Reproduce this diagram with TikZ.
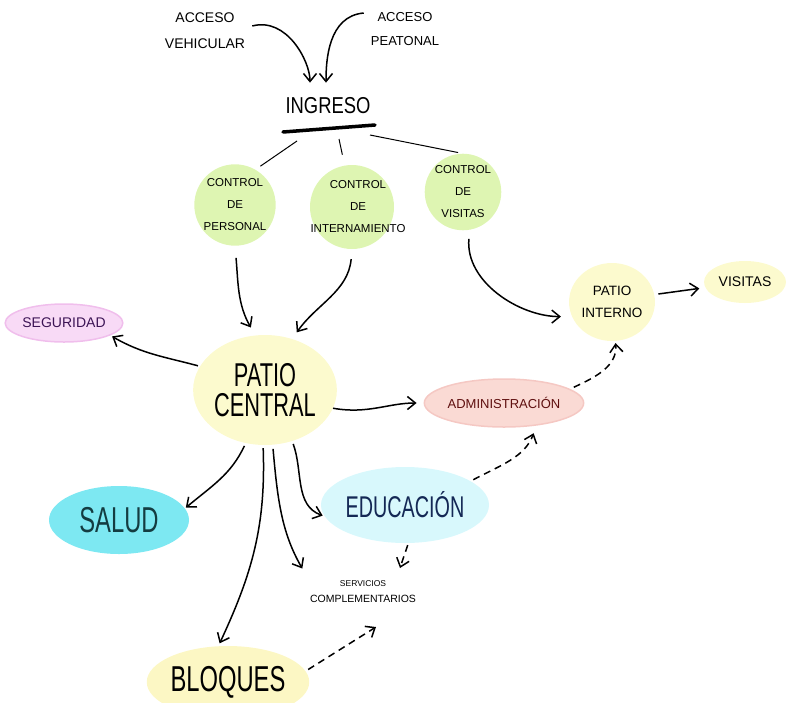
\documentclass[tikz,border=0pt]{standalone}
\usepackage{fontspec}
\setmainfont{Liberation Sans}
\newfontfamily\hand{Liberation Sans}
\newfontfamily\handc[FakeStretch=0.8]{Liberation Sans}
\newfontfamily\handx[FakeStretch=0.66]{Liberation Sans}
\usetikzlibrary{arrows.meta,shapes.geometric,calc}
\definecolor{cgreen}{RGB}{222,245,178}
\definecolor{cyel}{RGB}{252,250,206}
\definecolor{cyel2}{RGB}{252,247,196}
\definecolor{cpink}{RGB}{248,218,246}
\definecolor{cpinkb}{RGB}{240,190,236}
\definecolor{cred}{RGB}{250,218,212}
\definecolor{credb}{RGB}{245,200,195}
\definecolor{ccyan}{RGB}{125,232,242}
\definecolor{clcyan}{RGB}{216,248,252}
\definecolor{tpurple}{RGB}{60,20,85}
\definecolor{tteal}{RGB}{20,60,65}
\definecolor{tblue}{RGB}{20,40,85}
\definecolor{tred}{RGB}{95,15,15}
\tikzset{
  blob/.style={ellipse,inner sep=0pt,align=center,draw=none},
  ctrl/.style={circle,fill=cgreen,inner sep=0pt,minimum size=#1,align=center,font=\fontsize{11.5}{22}\hand},
  lbl/.style={align=center,inner sep=1pt},
  arr/.style={-{Straight Barb[length=8pt,width=13pt]},line width=1.5pt,black},
  darr/.style={arr,dash pattern=on 7pt off 5pt},
  thinl/.style={line width=1pt,black}
}
\begin{document}
\begin{tikzpicture}[x=1pt,y=1pt]
\useasboundingbox (0,0) rectangle (787,-702);
% texts at top
\node[lbl,font=\fontsize{14}{26}\hand] (veh) at (205,-31) {ACCESO\\VEHICULAR};
\node[lbl,font=\fontsize{13}{24}\hand] (pea) at (405,-29) {ACCESO\\PEATONAL};
\node[lbl,font=\fontsize{23}{24}\handc] (ing) at (328,-106) {INGRESO};
\coordinate (u1) at (283,-132);
\coordinate (u2) at (375,-125);
\coordinate (l1) at (297,-141);
\coordinate (l2) at (339,-139);
\coordinate (l3) at (370,-135);
% controls
\node[ctrl=76pt] (cp) at (235,-205) {CONTROL\\DE\\PERSONAL};
\node[ctrl=84pt] (ci) at (352,-207) {};
\node[lbl,font=\fontsize{11.5}{22}\hand] (cit) at (358,-207) {CONTROL\\DE\\INTERNAMIENTO};
\node[ctrl=76pt] (cv) at (463,-192) {CONTROL\\DE\\VISITAS};
% main blobs
\node[blob,fill=cyel,minimum width=125pt,minimum height=110pt,font=\fontsize{33}{30}\handx] (pc) at (265,-390) {PATIO\\CENTRAL};
\node[blob,fill=cpink,draw=cpinkb,line width=1.5pt,minimum width=108pt,minimum height=38pt,font=\fontsize{14}{15}\hand,text=tpurple] (seg) at (64,-323) {SEGURIDAD};
\node[blob,fill=cyel,minimum width=82pt,minimum height=78pt,font=\fontsize{13.5}{22}\hand] (pi) at (612,-302) {PATIO\\INTERNO};
\node[blob,fill=cyel,minimum width=82pt,minimum height=42pt,font=\fontsize{14}{14}\hand] (vis) at (745,-282) {VISITAS};
\node[blob,fill=cred,draw=credb,line width=1.5pt,minimum width=158pt,minimum height=48pt,font=\fontsize{13}{14}\hand,text=tred] (adm) at (504,-403) {ADMINISTRACIÓN};
\node[blob,fill=clcyan,minimum width=155pt,minimum height=76pt,font=\fontsize{30}{27}\handx,text=tblue] (edu) at (405,-505) {EDUCACIÓN};
\node[blob,fill=ccyan,minimum width=140pt,minimum height=68pt,font=\fontsize{36}{32}\handx,text=tteal] (sal) at (119,-520) {SALUD};
\node[blob,fill=cyel2,minimum width=162pt,minimum height=72pt,font=\fontsize{36}{32}\handx] (blo) at (228,-682) {BLOQUES};
\node[lbl,font=\fontsize{8.5}{16}\hand] (serv) at (363,-592) {SERVICIOS\\\fontsize{10.5}{12}\selectfont COMPLEMENTARIOS};
\coordinate (s1) at (400,-568);
\coordinate (s2) at (376,-627);
% ingreso arrows
\draw[arr,shorten >=14pt] ([xshift=6pt,yshift=5pt]veh.east) to[out=15,in=90] ($(ing.north)+(-18,0)$);
\draw[arr,shorten >=14pt] ([xshift=-6pt,yshift=16pt]pea.west) to[out=185,in=90] ($(ing.north)+(-2,0)$);
\draw[line width=3.5pt,line cap=round] (u1) -- (u2);
\draw[thinl,shorten >=6pt] (l1) -- (cp.60);
\draw[thinl,shorten >=11pt] (l2) -- (ci.100);
\draw[thinl,shorten >=5pt] (l3) -- (cv.north);
% control arrows
\draw[arr,shorten <=12pt,shorten >=9pt] (cp.south) to[out=-85,in=120] (pc.100);
\draw[arr,shorten <=10pt,shorten >=8pt] (ci.south) to[out=-95,in=55] (pc.62);
\draw[arr,shorten <=9pt,shorten >=11pt] (cv.-80) to[out=-95,in=180] (pi.200);
% patio central arrows
\draw[arr,shorten <=2pt,shorten >=2pt] (pc.160) to[out=165,in=-30] (seg.-15);
\draw[arr,shorten >=7pt] (pc.-15) to[out=-10,in=180] (adm.west);
\draw[arr,shorten <=3pt,shorten >=1pt] (pc.-110) to[out=-115,in=40] (sal.10);
\draw[arr,shorten <=3pt,shorten >=3pt] (pc.-92) to[out=-88,in=65] (blo.105);
\draw[arr,shorten <=4pt,shorten >=13pt] (pc.-82) to[out=-85,in=120] (serv.north west);
\draw[arr,shorten <=3pt,shorten >=2pt] (pc.-62) to[out=-70,in=160] (edu.188);
% right side
\draw[arr,shorten <=4pt,shorten >=6pt] (pi.10) -- (vis.188);
\draw[darr,shorten <=4pt,shorten >=2pt] (adm.12) to[out=25,in=-85] (pi.-85);
\draw[darr,shorten <=3pt,shorten >=8pt] (edu.20) to[out=28,in=-110] (adm.-35);
\draw[darr,shorten <=2pt] (edu.-85) -- (s1);
\draw[darr,shorten <=3pt] (blo.8) -- (s2);
\end{tikzpicture}
\end{document}
